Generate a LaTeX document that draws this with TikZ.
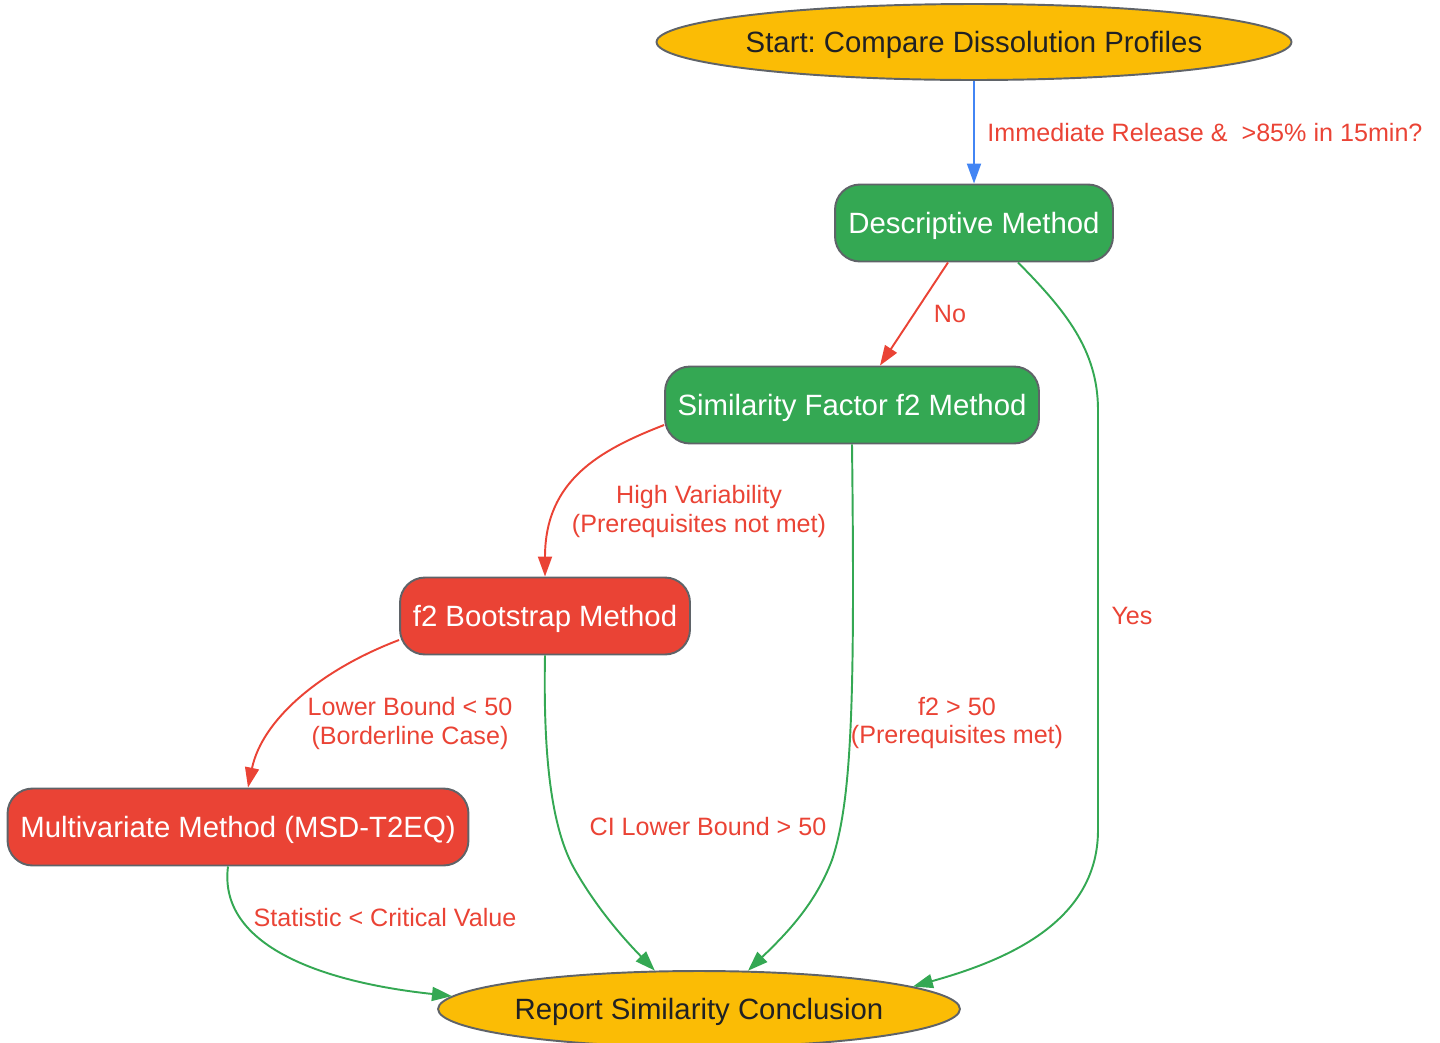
\documentclass[tikz,border=0pt]{standalone}
\usepackage{fontspec}
\setmainfont{Liberation Sans}
\frenchspacing
\usetikzlibrary{shapes.geometric,arrows.meta,calc}
\definecolor{gyellow}{HTML}{FBBC05}
\definecolor{ggreen}{HTML}{34A853}
\definecolor{gred}{HTML}{EA4335}
\definecolor{gblue}{HTML}{4285F4}
\definecolor{gborder}{HTML}{5F6368}
\definecolor{gdark}{HTML}{202124}
\begin{document}
\begin{tikzpicture}[
  x=0.02cm, y=-0.02cm,
  every node/.style={font=\fontsize{16.7}{20}\selectfont},
  terminal/.style={ellipse, draw=gborder, line width=1.1pt, fill=gyellow, text=gdark, minimum height=1.52cm, inner xsep=-5pt, inner ysep=0pt, text height=12.4pt, text depth=0pt},
  method/.style={rectangle, rounded corners=0.5cm, draw=gborder, line width=1.1pt, text=white, minimum height=1.54cm, inner sep=0pt, text height=12.4pt, text depth=0pt},
  lbl/.style={font=\fontsize{14.3}{16.5}\selectfont, text=gred, align=center, inner sep=1pt},
  flow/.style={line width=1.1pt, -{Triangle[length=0.4cm,width=0.28cm]}}
]
\useasboundingbox (0,0) rectangle (1440,1042);

\node[terminal, minimum width=12.7cm] (start) at (974,42) {Start: Compare Dissolution Profiles};
\node[method, fill=ggreen, minimum width=5.56cm] (desc) at (974,223) {Descriptive Method};
\node[method, fill=ggreen, minimum width=7.48cm] (sim) at (852,405) {Similarity Factor f2 Method};
\node[method, fill=gred, minimum width=5.8cm] (boot) at (545,616) {f2 Bootstrap Method};
\node[method, fill=gred, minimum width=9.22cm] (multi) at (238,827) {Multivariate Method (MSD-T2EQ)};
\node[terminal, minimum width=10.44cm] (report) at (699,1009) {Report Similarity Conclusion};

\draw[flow, gblue] (start.south) -- (desc.north);
\draw[flow, gred] ($(desc.south)+(-26,0)$) -- ($(sim.north)+(28,0)$);
\draw[flow, ggreen] ($(desc.south)+(44,0)$) .. controls (1065,310) and (1098,350) .. (1098,410)
  -- (1098,830) .. controls (1098,925) and (1000,962) .. (report.6);
\draw[flow, gred] ($(sim.west)+(0,20)$) .. controls (600,450) and (545,480) .. (boot.north);
\draw[flow, ggreen] (sim.south) .. controls (855,700) and (852,800) .. (832,860)
  .. controls (815,905) and (785,935) .. (report.38);
\draw[flow, gred] ($(boot.west)+(0,24)$) .. controls (320,670) and (262,720) .. ($(multi.north)+(10,0)$);
\draw[flow, ggreen] (boot.south) .. controls (543,760) and (552,830) .. (575,870)
  .. controls (598,910) and (625,940) .. (report.139);
\draw[flow, ggreen] ($(multi.south)+(-10,0)$) .. controls (218,945) and (320,982) .. (report.177);

\node[lbl] (l-ir) at (1205,133) {Immediate Release \&\ \ >85\% in 15min?};
\node[lbl] (l-no) at (950,314) {No};
\node[lbl] (l-yes) at (1132,616) {Yes};
\node[lbl] (l-hv) at (699,511) {High Variability\\(Prerequisites not met)};
\node[lbl] (l-f2) at (957,723) {f2 > 50\\(Prerequisites met)};
\node[lbl] (l-lb) at (410,723) {Lower Bound < 50\\(Borderline Case)};
\node[lbl] (l-ci) at (708,827) {CI Lower Bound > 50};
\node[lbl] (l-st) at (385,918) {Statistic < Critical Value};
\end{tikzpicture}
\end{document}
